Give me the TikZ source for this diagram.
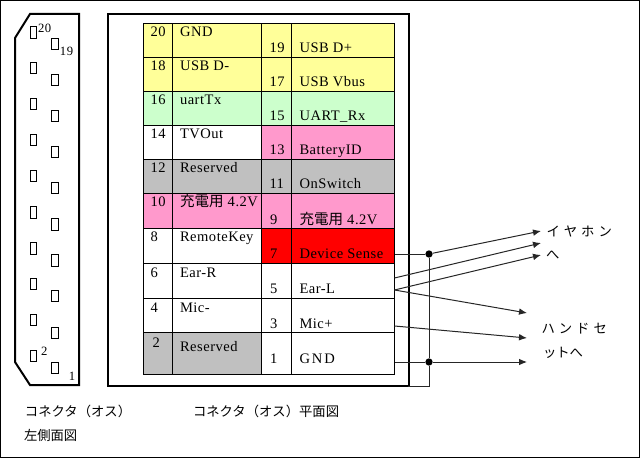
\documentclass[tikz,border=0pt]{standalone}
\usepackage{fontspec}
\setmainfont[LetterSpace=3.5]{Liberation Serif}
\newfontfamily\cjk{Noto Sans CJK JP}
\usetikzlibrary{arrows.meta}
\definecolor{cyellow}{HTML}{FFFF99}
\definecolor{cgreen}{HTML}{CCFFCC}
\definecolor{cpink}{HTML}{FF99CC}
\definecolor{cgray}{HTML}{C0C0C0}
\definecolor{cred}{HTML}{FF0000}
\tikzset{
  heavy/.style={draw=black,line width=1.5pt},
  cellbox/.style={draw=black,line width=0.75pt,rectangle,inner sep=0pt,outer sep=0pt,anchor=north west},
  pinbox/.style={draw=black,line width=0.75pt,rectangle,fill=white,inner sep=0pt,outer sep=0pt,minimum width=4.5pt,minimum height=8.5pt},
  txt/.style={inner sep=0pt,outer sep=0pt,anchor=base west,font=\fontsize{10.9pt}{12pt}\selectfont},
  smalltxt/.style={txt,font=\fontsize{9.5pt}{11pt}\selectfont},
  jp/.style={inner sep=0pt,outer sep=0pt,anchor=west,font=\cjk\fontsize{10pt}{11pt}\selectfont},
  wire/.style={draw=black!85,line width=0.75pt},
  arrowwire/.style={wire,-{Latex[length=6pt,width=5pt]}},
  junction/.style={circle,fill=black,inner sep=0pt,minimum size=5.5pt},
}
\newcommand{\mycell}[6]{\node[cellbox,fill=#6,minimum width={(#3-#2)*0.75pt},minimum height={(#5-#4)*0.75pt}] (#1) at (#2,#4) {};}
\newcommand{\tablerow}[5]{%
  \mycell{a#1}{143.5}{172.5}{#2}{#3}{#4}
  \mycell{b#1}{172.5}{261.5}{#2}{#3}{#4}
  \mycell{c#1}{261.5}{291.5}{#2}{#3}{#5}
  \mycell{d#1}{291.5}{394.5}{#2}{#3}{#5}}
\newcommand{\ltext}[4]{\node[txt] (n#1) at (#2,#3) {#1}; \node[txt] (t#1) at (180,#3) {#4};}
\newcommand{\rtext}[4]{\node[txt] (n#1) at (#2,#3) {#1}; \node[txt] (t#1) at (299.5,#3) {#4};}
\begin{document}
\begin{tikzpicture}[x=0.75pt,y=-0.75pt]
\useasboundingbox (0,0) rectangle (640,460);
\node[draw=black,line width=0.75pt,rectangle,inner sep=0pt,outer sep=0pt,anchor=north west,minimum width={638.5*0.75pt},minimum height={457*0.75pt}] (frame) at (0.5,0.5) {};
% side view
\draw[heavy,line join=miter] (30,14) -- (79,14) -- (79,385) -- (30,385) -- (15,362) -- (15,38) -- cycle;
\foreach \i/\y in {20/32.5,18/68,16/104,14/140,12/176,10/212.5,8/248.5,6/284,4/320,2/356}
  \node[pinbox] (p\i) at (33.7,\y) {};
\foreach \i/\y in {19/44,17/80,15/116,13/152,11/188,9/224.5,7/260.5,5/296,3/333,1/368}
  \node[pinbox,minimum width=5.5pt] (p\i) at (55,\y) {};
\node[smalltxt] (s20) at (38,33) {20};
\node[smalltxt] (s19) at (60,56) {19};
\node[smalltxt] (s2) at (41,355) {2};
\node[smalltxt] (s1) at (69,380) {1};
% plan view
\node[cellbox,draw=black,line width=1.5pt,minimum width={301*0.75pt},minimum height={372*0.75pt}] (body) at (107.5,14) {};
\tablerow{1}{23.5}{57.5}{cyellow}{cyellow}
\tablerow{2}{57.5}{91.5}{cyellow}{cyellow}
\tablerow{3}{91.5}{125.5}{cgreen}{cgreen}
\tablerow{4}{125.5}{159.5}{white}{cpink}
\tablerow{5}{159.5}{193.5}{cgray}{cgray}
\tablerow{6}{193.5}{228.5}{cpink}{cpink}
\tablerow{7}{228.5}{263.5}{white}{cred}
\tablerow{8}{263.5}{298.5}{white}{white}
\tablerow{9}{298.5}{332.5}{white}{white}
\tablerow{10}{332.5}{374}{cgray}{white}
\ltext{20}{150.5}{37}{GND}
\rtext{19}{269.5}{53}{USB D+}
\ltext{18}{150.5}{71}{USB D-}
\rtext{17}{269.5}{87}{USB Vbus}
\ltext{16}{150.5}{105}{uartTx}
\rtext{15}{269.5}{121}{UART\_Rx}
\ltext{14}{150.5}{139}{TVOut}
\rtext{13}{269.5}{155}{BatteryID}
\ltext{12}{150.5}{173}{Reserved}
\rtext{11}{269.5}{189}{OnSwitch}
\ltext{10}{150.5}{207}{{\cjk 充電用} 4.2V}
\rtext{9}{270}{224}{{\cjk 充電用} 4.2V}
\ltext{8}{150.5}{242}{RemoteKey}
\rtext{7}{270}{258.5}{Device Sense}
\ltext{6}{150.5}{277}{Ear-R}
\rtext{5}{270}{293}{Ear-L}
\ltext{4}{150.5}{312}{Mic-}
\rtext{3}{270}{328.5}{Mic+}
\node[txt] (n2) at (152.5,347) {2};
\node[txt] (t2) at (180,351) {Reserved};
\rtext{1}{270}{363}{G\kern1.5pt N\kern1.5pt D}
% wires
\coordinate (w7) at (394.5,254);
\coordinate (w6) at (394.5,278);
\coordinate (w5) at (394.5,290);
\coordinate (w3) at (394.5,326);
\coordinate (w1) at (394.5,362);
\coordinate (e7) at (541,231);
\coordinate (e6) at (541,243);
\coordinate (e5) at (541,255);
\coordinate (h5) at (527,313);
\coordinate (h3) at (527,338);
\coordinate (h1) at (527,362);
\coordinate (bend) at (429,386);
\coordinate (back) at (408,386);
\node[junction] (j7) at (429,254) {};
\node[junction] (j1) at (429,362) {};
\draw[wire] (w7) -- (j7);
\draw[wire] (w1) -- (j1);
\draw[wire] (j7) -- (j1) -- (bend) -- (back);
\draw[arrowwire] (j7) -- (e7);
\draw[arrowwire] (w6) -- (e6);
\draw[arrowwire] (w5) -- (e5);
\draw[arrowwire] (w5) -- (h5);
\draw[arrowwire] (w3) -- (h3);
\draw[arrowwire] (j1) -- (h1);
% labels
\node[jp] (lab1) at (546.5,231) {イ\kern3pt ヤ\kern3pt ホ\kern3pt ン};
\node[jp] (lab2) at (546,255) {へ};
\node[jp] (lab3) at (541.5,329) {ハ\kern3pt ン\kern3pt ド\kern3pt セ};
\node[jp] (lab4) at (543,353) {ットへ};
\node[jp] (cap1) at (25,411) {コネクタ（オス）};
\node[jp] (cap2) at (24,435) {左側面図};
\node[jp] (cap3) at (193,411) {コネクタ（オス）平面図};
\end{tikzpicture}
\end{document}
